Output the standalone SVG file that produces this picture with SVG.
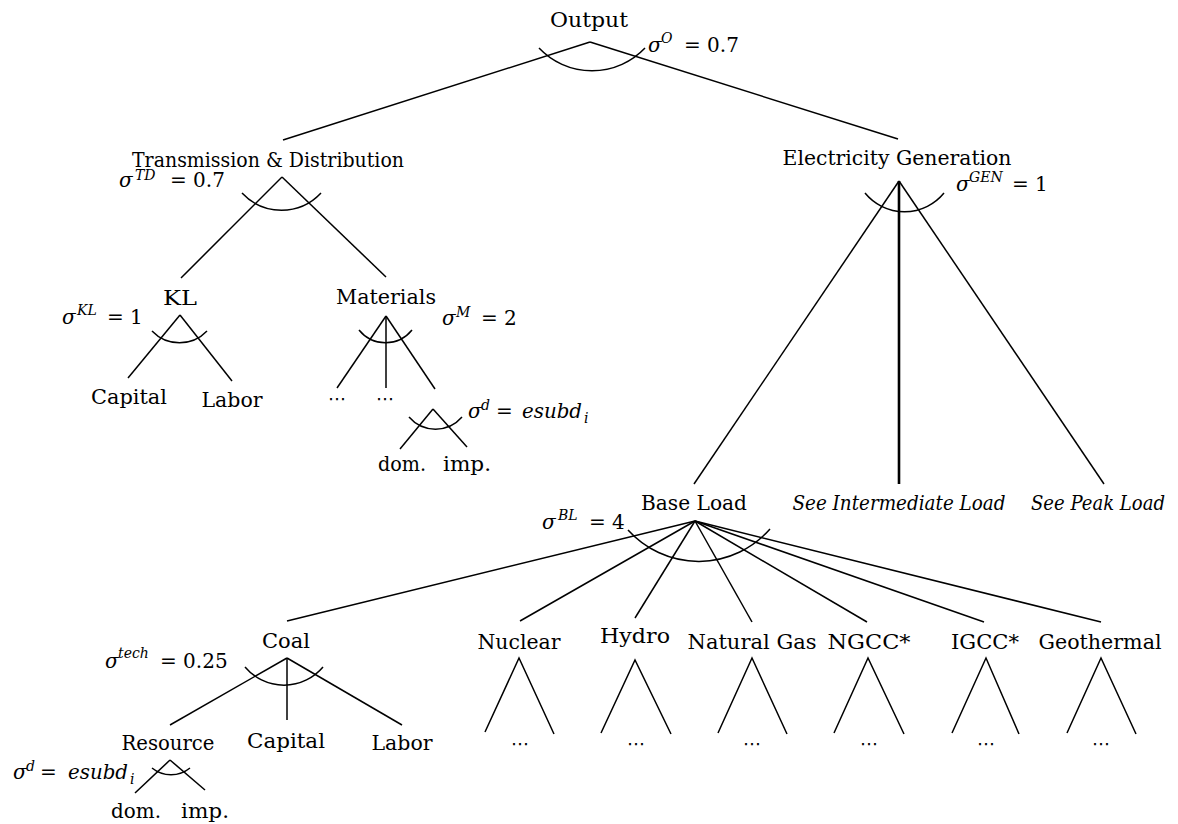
<svg xmlns="http://www.w3.org/2000/svg" width="1178" height="824" viewBox="0 0 1178 824">
<style>
.t{font-family:"DejaVu Serif","Liberation Serif",serif;font-size:20px;fill:#000;text-anchor:middle}
.it{font-family:"DejaVu Serif","Liberation Serif",serif;font-style:italic;font-size:20px;fill:#000;text-anchor:middle}
.m{font-family:"DejaVu Serif","Liberation Serif",serif;font-style:italic;font-size:20px;fill:#000}
.sup{font-size:14px;font-style:italic}
.up{font-style:normal}
.sub{font-size:14px}
.dots{font-family:"DejaVu Sans",sans-serif;font-size:18px;fill:#000;text-anchor:middle}
.ln{stroke:#000;stroke-width:1.5;fill:none}
.thick{stroke:#000;stroke-width:2.6;fill:none}
</style>
<rect width="1178" height="824" fill="#fff"/>

<g id="connectors" class="ln">
<line x1="590" y1="42" x2="283" y2="140"/>
<line x1="590" y1="42" x2="898" y2="139"/>
<line x1="282" y1="177" x2="181" y2="278"/>
<line x1="282" y1="177" x2="386" y2="277"/>
<line x1="180" y1="315" x2="128" y2="378"/>
<line x1="180" y1="315" x2="232" y2="381"/>
<line x1="386" y1="316" x2="337" y2="388"/>
<line x1="386" y1="316" x2="386" y2="388"/>
<line x1="386" y1="316" x2="435" y2="389"/>
<line x1="433" y1="409" x2="400" y2="449"/>
<line x1="433" y1="409" x2="467" y2="447"/>
<line x1="899" y1="181" x2="694" y2="484"/>
<line class="thick" x1="899" y1="181" x2="899" y2="484"/>
<line x1="899" y1="181" x2="1104" y2="484"/>
<line x1="695" y1="521" x2="287" y2="621"/>
<line x1="695" y1="521" x2="520" y2="621"/>
<line x1="695" y1="521" x2="635" y2="618"/>
<line x1="695" y1="521" x2="752" y2="622"/>
<line x1="695" y1="521" x2="867" y2="622"/>
<line x1="695" y1="521" x2="984" y2="622"/>
<line x1="695" y1="521" x2="1101" y2="622"/>
<line x1="287" y1="658" x2="170" y2="725"/>
<line x1="287" y1="658" x2="287" y2="720"/>
<line x1="287" y1="658" x2="402" y2="725"/>
<line x1="170" y1="760" x2="135" y2="793"/>
<line x1="170" y1="760" x2="205" y2="790"/>
<polyline points="485,732 519,658 554,734"/>
<polyline points="601,733 635,660 671,734"/>
<polyline points="718,733 752,658 787,734"/>
<polyline points="834,733 868,658 904,734"/>
<polyline points="952,733 986,658 1019,734"/>
<polyline points="1067,733 1101,658 1136,734"/>
</g>

<g id="output">
<text class="t" x="589" y="27" textLength="78" lengthAdjust="spacingAndGlyphs">Output</text>
<path class="ln" d="M539,48 A73,73 0 0 0 645,48"/>
<text class="m" x="648" y="52">σ<tspan class="sup" x="661" y="43">O</tspan><tspan class="up" x="684" y="52">= 0.7</tspan></text>
</g>

<g id="td">
<text class="t" x="268" y="167" textLength="272" lengthAdjust="spacingAndGlyphs">Transmission &amp; Distribution</text>
<path class="ln" d="M242,193 A54,54 0 0 0 321,193"/>
<text class="m" x="119" y="187">σ<tspan class="sup" x="135" y="180">TD</tspan><tspan class="up" x="170" y="187">= 0.7</tspan></text>
</g>

<g id="gen">
<text class="t" x="897" y="165" textLength="229" lengthAdjust="spacingAndGlyphs">Electricity Generation</text>
<path class="ln" d="M865,193 A51,51 0 0 0 944,193"/>
<text class="m" x="956" y="191">σ<tspan class="sup" x="969" y="182">GEN</tspan><tspan class="up" x="1012" y="191">= 1</tspan></text>
</g>

<g id="kl">
<text class="t" x="180" y="305" textLength="34" lengthAdjust="spacingAndGlyphs">KL</text>
<path class="ln" d="M152,331 A38,38 0 0 0 207,331"/>
<text class="m" x="62" y="324">σ<tspan class="sup" x="77" y="315">KL</tspan><tspan class="up" x="107" y="324">= 1</tspan></text>
</g>

<g id="capital1"><text class="t" x="129" y="404" textLength="76" lengthAdjust="spacingAndGlyphs">Capital</text></g>
<g id="labor1"><text class="t" x="232" y="407" textLength="61" lengthAdjust="spacingAndGlyphs">Labor</text></g>

<g id="materials">
<text class="t" x="386" y="304" textLength="100" lengthAdjust="spacingAndGlyphs">Materials</text>
<path class="ln" d="M359,330 A34,34 0 0 0 412,330"/>
<text class="m" x="442" y="325">σ<tspan class="sup" x="456" y="317">M</tspan><tspan class="up" x="481" y="325">= 2</tspan></text>
</g>

<g id="mat-dots1"><text class="dots" x="337" y="405">⋯</text></g>
<g id="mat-dots2"><text class="dots" x="385" y="405">⋯</text></g>

<g id="mat-armington">
<path class="ln" d="M409,417 A35,35 0 0 0 462,417"/>
<text class="m" x="468" y="418">σ<tspan class="sup" x="481" y="410">d</tspan><tspan class="up" x="496" y="418">=</tspan><tspan x="522" y="418" textLength="60" lengthAdjust="spacingAndGlyphs">esubd</tspan><tspan class="sub" x="584" y="423">i</tspan></text>
</g>
<g id="mat-dom"><text class="t" x="402" y="471" textLength="48" lengthAdjust="spacingAndGlyphs">dom.</text></g>
<g id="mat-imp"><text class="t" x="467" y="471" textLength="48" lengthAdjust="spacingAndGlyphs">imp.</text></g>

<g id="baseload">
<text class="t" x="694" y="510" textLength="106" lengthAdjust="spacingAndGlyphs">Base Load</text>
<path class="ln" d="M628,530 A95,95 0 0 0 770,529"/>
<text class="m" x="542" y="529">σ<tspan class="sup" x="558" y="520">BL</tspan><tspan class="up" x="589" y="529">= 4</tspan></text>
</g>

<g id="intermediate"><text class="it" x="899" y="510" textLength="213" lengthAdjust="spacingAndGlyphs">See Intermediate Load</text></g>
<g id="peak"><text class="it" x="1098" y="510" textLength="134" lengthAdjust="spacingAndGlyphs">See Peak Load</text></g>

<g id="coal">
<text class="t" x="286" y="648" textLength="48" lengthAdjust="spacingAndGlyphs">Coal</text>
<path class="ln" d="M245,667 A51,51 0 0 0 323,667"/>
<text class="m" x="105" y="668">σ<tspan class="sup" x="118" y="658">tech</tspan><tspan class="up" x="160" y="668">= 0.25</tspan></text>
</g>

<g id="resource">
<text class="t" x="168" y="750" textLength="93" lengthAdjust="spacingAndGlyphs">Resource</text>
<path class="ln" d="M152,768 A30,30 0 0 0 190,768"/>
<text class="m" x="13" y="779">σ<tspan class="sup" x="26" y="771">d</tspan><tspan class="up" x="40" y="779">=</tspan><tspan x="68" y="779" textLength="60" lengthAdjust="spacingAndGlyphs">esubd</tspan><tspan class="sub" x="130" y="784">i</tspan></text>
</g>
<g id="capital2"><text class="t" x="286" y="748" textLength="78" lengthAdjust="spacingAndGlyphs">Capital</text></g>
<g id="labor2"><text class="t" x="402" y="750" textLength="61" lengthAdjust="spacingAndGlyphs">Labor</text></g>
<g id="res-dom"><text class="t" x="136" y="818" textLength="50" lengthAdjust="spacingAndGlyphs">dom.</text></g>
<g id="res-imp"><text class="t" x="205" y="818" textLength="48" lengthAdjust="spacingAndGlyphs">imp.</text></g>

<g id="nuclear"><text class="t" x="519" y="649" textLength="83" lengthAdjust="spacingAndGlyphs">Nuclear</text><text class="dots" x="520" y="750">⋯</text></g>
<g id="hydro"><text class="t" x="635" y="643" textLength="70" lengthAdjust="spacingAndGlyphs">Hydro</text><text class="dots" x="636" y="750">⋯</text></g>
<g id="naturalgas"><text class="t" x="752" y="649" textLength="129" lengthAdjust="spacingAndGlyphs">Natural Gas</text><text class="dots" x="752" y="750">⋯</text></g>
<g id="ngcc"><text class="t" x="869" y="649" textLength="83" lengthAdjust="spacingAndGlyphs">NGCC*</text><text class="dots" x="869" y="750">⋯</text></g>
<g id="igcc"><text class="t" x="985" y="649" textLength="68" lengthAdjust="spacingAndGlyphs">IGCC*</text><text class="dots" x="986" y="750">⋯</text></g>
<g id="geothermal"><text class="t" x="1100" y="649" textLength="123" lengthAdjust="spacingAndGlyphs">Geothermal</text><text class="dots" x="1101" y="750">⋯</text></g>
</svg>
